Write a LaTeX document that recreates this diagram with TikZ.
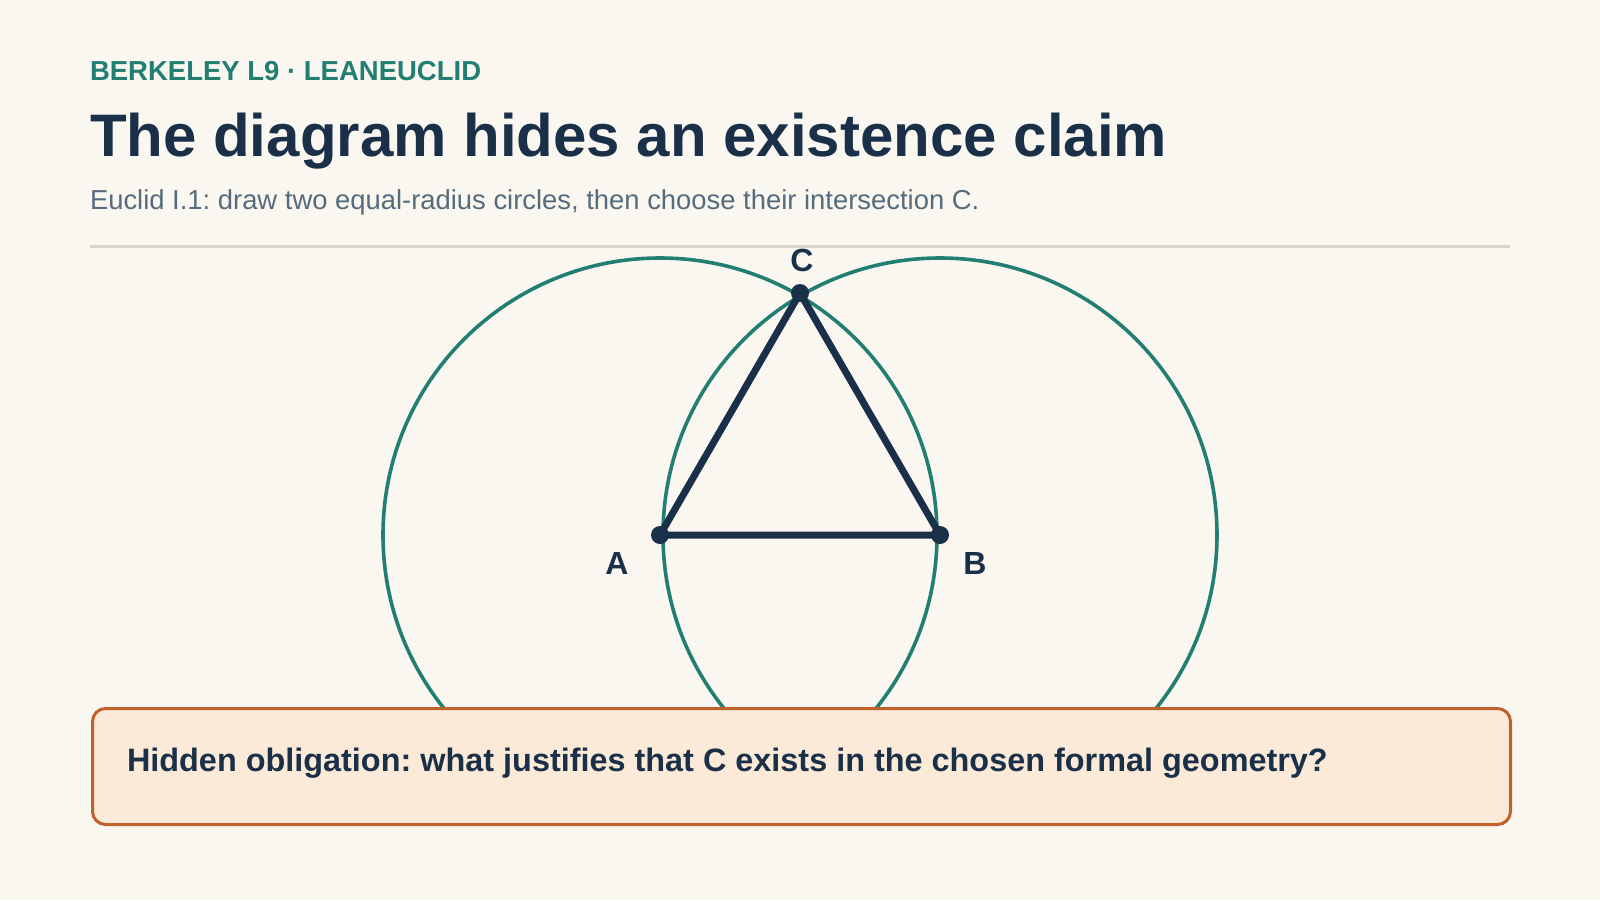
\documentclass[tikz,border=0pt]{standalone}
\usepackage{fontspec}
\setmainfont{Liberation Sans}
\frenchspacing
\definecolor{bgc}{HTML}{FAF7F0}
\definecolor{tealc}{HTML}{237E72}
\definecolor{navyc}{HTML}{1A3049}
\definecolor{subc}{HTML}{566B7C}
\definecolor{rulec}{HTML}{D9D5CA}
\definecolor{boxfillc}{HTML}{FCEAD8}
\definecolor{boxdrawc}{HTML}{C0602A}
\tikzset{
  txt/.style={anchor=base west, inner sep=0pt, outer sep=0pt},
  circ/.style={draw=tealc, line width=3.6pt},
  tri/.style={draw=navyc, line width=7pt, line join=round},
  ptdot/.style={circle, fill=navyc, minimum size=18pt, inner sep=0pt},
  lbl/.style={inner sep=0pt, text=navyc, font=\bfseries\fontsize{32}{38}\selectfont},
  notebox/.style={draw=boxdrawc, fill=boxfillc, line width=3pt, rounded corners=13pt, anchor=north west, inner sep=0pt}
}
\begin{document}
\begin{tikzpicture}[x=1pt,y=-1pt]
\fill[bgc] (0,0) rectangle (1600,900);
\useasboundingbox (0,0) rectangle (1600,900);
% header
\node[txt, text=tealc, font=\bfseries\fontsize{27.5}{33}\selectfont] (kicker) at (90,80) {BERKELEY L9 · LEANEUCLID};
\node[txt, text=navyc, font=\bfseries\fontsize{60}{72}\selectfont] (title) at (90,156) {The diagram hides an existence claim};
\node[txt, text=subc, font=\fontsize{27.4}{33}\selectfont] (sub) at (90,209) {Euclid I.1: draw two equal-radius circles, then choose their intersection C.};
\coordinate (r1) at (90,246);
\coordinate (r2) at (1510,246);
\draw[rulec, line width=3pt] (r1) -- (r2);
% construction
\coordinate (A) at (660,535);
\coordinate (B) at (940,535);
\coordinate (C) at (800,293);
\draw[circ] (A) circle[radius=277pt];
\draw[circ] (B) circle[radius=277pt];
\draw[tri] (A) -- (B) -- (C) -- cycle;
\node[ptdot] (dA) at (A) {};
\node[ptdot] (dB) at (B) {};
\node[ptdot] (dC) at (C) {};
\node[lbl] (lA) at (617,563) {A};
\node[lbl] (lB) at (975,563) {B};
\node[lbl] (lC) at (802,260) {C};
% note box
\node[notebox, minimum width=1418pt, minimum height=116pt] (box) at (91,707) {};
\node[txt, text=navyc, font=\bfseries\fontsize{32.4}{39}\selectfont] (note) at (127,771) {Hidden obligation: what justifies that C exists in the chosen formal geometry?};
\end{tikzpicture}
\end{document}
